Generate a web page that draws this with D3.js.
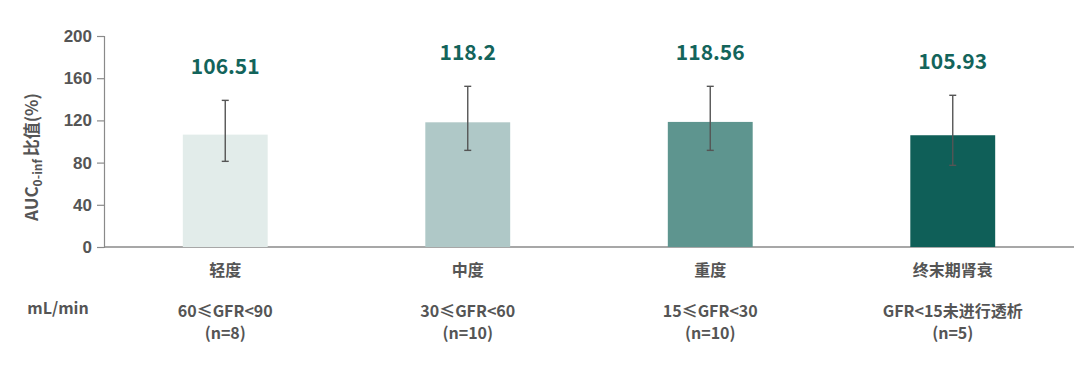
<!DOCTYPE html>
<html>
<head>
<meta charset="utf-8">
<script src="https://cdn.jsdelivr.net/npm/d3@7"></script>
<style>
  body { margin: 0; background: #fff; }
  svg { display: block; font-family: "Noto Sans CJK SC", "Noto Sans", sans-serif; }
</style>
</head>
<body>
<svg id="chart" width="1074" height="365"></svg>
<script>
// Data
const categories = ['轻度', '中度', '重度', '终末期肾衰'];
const values = [106.51, 118.2, 118.56, 105.93];
const lower = [81.2, 91.6, 91.6, 77.4];
const upper = [139, 152.3, 152.3, 143.8];
const rangeLabels = ['60≤GFR<90', '30≤GFR<60', '15≤GFR<30', 'GFR<15未进行透析'];
const countLabels = ['(n=8)', '(n=10)', '(n=10)', '(n=5)'];
const barColors = ['#e2ecea', '#afc8c7', '#5e958f', '#0f5f58'];
const yTicks = [0, 40, 80, 120, 160, 200];

const svg = d3.select('#chart');
const margin = { left: 104, top: 36, right: 0, bottom: 118 };
const width = 1074, height = 365;

const x = d3.scaleBand()
  .domain(categories)
  .range([margin.left, width - margin.right])
  .padding(0);

const y = d3.scaleLinear()
  .domain([0, 200])
  .range([height - margin.bottom, margin.top]);

const barW = x.bandwidth() * 0.35;
const textColor = '#555';
const axisColor = '#8a8a8a';

// Y axis
const yAxis = svg.append('g')
  .attr('transform', `translate(${margin.left},0)`)
  .call(d3.axisLeft(y).tickValues(yTicks).tickSize(7).tickPadding(5));
yAxis.select('.domain').attr('stroke', axisColor).attr('stroke-width', 1.2);
yAxis.selectAll('.tick line').attr('stroke', axisColor).attr('stroke-width', 1.2);
yAxis.selectAll('.tick text')
  .attr('fill', textColor)
  .style('font-size', '17px')
  .style('font-weight', 700);

// baseline
svg.append('line')
  .attr('x1', margin.left).attr('x2', width)
  .attr('y1', y(0)).attr('y2', y(0))
  .attr('stroke', axisColor).attr('stroke-width', 1.5);

// Y axis title
const title = svg.append('text')
  .attr('transform', `translate(38,157) rotate(-90)`)
  .attr('text-anchor', 'middle')
  .attr('fill', textColor)
  .style('font-size', '17px')
  .style('font-weight', 700);
title.append('tspan').text('AUC');
title.append('tspan').attr('dy', 4).style('font-size', '12px').text('0-inf ');
title.append('tspan').attr('dy', -4).text('比值(%)');

// Bars
svg.append('g').selectAll('rect')
  .data(values)
  .join('rect')
  .attr('x', (d, i) => x(categories[i]) + x.bandwidth() / 2 - barW / 2)
  .attr('y', d => y(d))
  .attr('width', barW)
  .attr('height', d => y(0) - y(d))
  .attr('fill', (d, i) => barColors[i]);

// Error bars
const err = svg.append('g')
  .attr('stroke', '#555')
  .attr('stroke-width', 1.4);
categories.forEach((c, i) => {
  const cx = x(c) + x.bandwidth() / 2;
  err.append('line').attr('x1', cx).attr('x2', cx).attr('y1', y(lower[i])).attr('y2', y(upper[i]));
  err.append('line').attr('x1', cx - 3.5).attr('x2', cx + 3.5).attr('y1', y(lower[i])).attr('y2', y(lower[i]));
  err.append('line').attr('x1', cx - 3.5).attr('x2', cx + 3.5).attr('y1', y(upper[i])).attr('y2', y(upper[i]));
});

// Value labels
svg.append('g').selectAll('text')
  .data(values)
  .join('text')
  .attr('x', (d, i) => x(categories[i]) + x.bandwidth() / 2)
  .attr('y', (d, i) => y(upper[i]) - 26)
  .attr('text-anchor', 'middle')
  .attr('fill', '#13645b')
  .style('font-size', '21px')
  .style('font-weight', 700)
  .text(d => d);

// Category labels
const labels = svg.append('g')
  .attr('text-anchor', 'middle')
  .attr('fill', textColor)
  .style('font-weight', 700);
categories.forEach((c, i) => {
  const cx = x(c) + x.bandwidth() / 2;
  labels.append('text').attr('x', cx).attr('y', 276).style('font-size', '16px').text(c);
  labels.append('text').attr('x', cx).attr('y', 317).style('font-size', '16px').text(rangeLabels[i]);
  labels.append('text').attr('x', cx).attr('y', 339).style('font-size', '16px').text(countLabels[i]);
});

svg.append('text')
  .attr('x', 58).attr('y', 314)
  .attr('text-anchor', 'middle')
  .attr('fill', textColor)
  .style('font-size', '16px')
  .style('font-weight', 700)
  .text('mL/min');
</script>
</body>
</html>
